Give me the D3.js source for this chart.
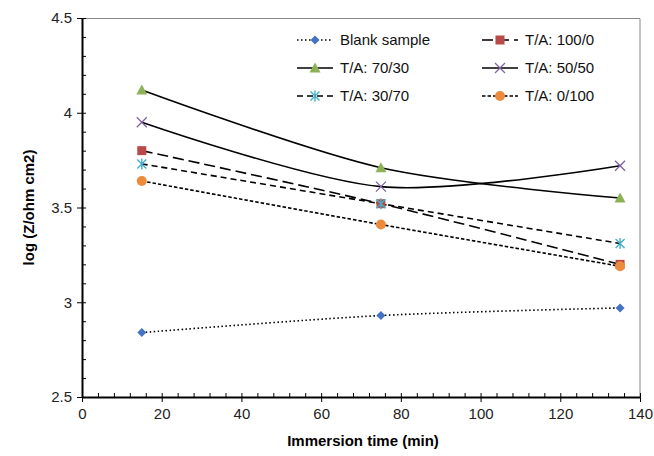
<!DOCTYPE html>
<html>
<head>
<meta charset="utf-8">
<script src="https://cdn.jsdelivr.net/npm/d3@7"></script>
<style>
  body { margin: 0; background: #fff; }
  text { font-family: "Liberation Sans", Arial, sans-serif; }
</style>
</head>
<body>
<svg id="chart"></svg>
<script>
// Immersion times (min)
const times = [15, 75, 135];

// log(Z) values per sample
const blank = [2.84, 2.93, 2.97];
const ta100_0 = [3.80, 3.52, 3.20];
const ta70_30 = [4.12, 3.71, 3.55];
const ta50_50 = [3.95, 3.61, 3.72];
const ta30_70 = [3.73, 3.52, 3.31];
const ta0_100 = [3.64, 3.41, 3.19];

const xTicks = [0, 20, 40, 60, 80, 100, 120, 140];
const yTicks = [2.5, 3, 3.5, 4, 4.5];

const series = [
    { name: 'Blank sample', values: blank, dash: '1.5,2.5', marker: 'diamond', color: '#4472C4' },
    { name: 'T/A: 100/0', values: ta100_0, dash: '11,5', marker: 'square', color: '#B94A48' },
    { name: 'T/A: 70/30', values: ta70_30, dash: null, marker: 'triangle', color: '#8DB255' },
    { name: 'T/A: 50/50', values: ta50_50, dash: null, marker: 'cross', color: '#7E62A1' },
    { name: 'T/A: 30/70', values: ta30_70, dash: '6,4', marker: 'star', color: '#45AFC8' },
    { name: 'T/A: 0/100', values: ta0_100, dash: '3.5,2', marker: 'circle', color: '#EE8A3C' }
];

const config = {
    width: 654,
    height: 456,
    margin: { top: 18, right: 14, bottom: 59, left: 82 }
};

let vis = {};
vis.width = config.width - config.margin.left - config.margin.right;
vis.height = config.height - config.margin.top - config.margin.bottom;

vis.svg = d3.select('#chart')
    .attr('width', config.width)
    .attr('height', config.height);

vis.chart = vis.svg.append('g')
    .attr('transform', `translate(${config.margin.left}, ${config.margin.top})`);

let x = d3.scaleLinear().domain([0, 140]).range([0, vis.width]);
let y = d3.scaleLinear().domain([2.5, 4.5]).range([vis.height, 0]);

// plot frame (top and right)
vis.chart.append('path')
    .attr('d', `M0,0.5H${vis.width}V${vis.height}`)
    .attr('fill', 'none')
    .attr('stroke', '#888')
    .attr('stroke-width', 1);

// minor ticks (inside)
vis.chart.append('g')
    .attr('transform', `translate(0, ${vis.height})`)
    .call(d3.axisBottom(x).tickValues(d3.range(0, 141, 4)).tickSize(-4).tickFormat(''))
    .call(g => g.select('.domain').remove());
vis.chart.append('g')
    .call(d3.axisLeft(y).tickValues(d3.range(25, 46, 1).map(d => d / 10)).tickSize(-4).tickFormat(''))
    .call(g => g.select('.domain').remove());

// major axes
let xAxis = vis.chart.append('g')
    .attr('transform', `translate(0, ${vis.height})`)
    .call(d3.axisBottom(x).tickValues(xTicks).tickSize(5).tickPadding(6).tickSizeOuter(0));
let yAxis = vis.chart.append('g')
    .call(d3.axisLeft(y).tickValues(yTicks).tickSize(5).tickPadding(5).tickSizeOuter(0)
        .tickFormat(d3.format('')));

[xAxis, yAxis].forEach(ax => {
    ax.select('.domain').attr('stroke-width', 2);
    ax.selectAll('text').style('font-size', '15px').attr('fill', '#222');
});

// axis titles
vis.svg.append('text')
    .attr('x', config.margin.left + vis.width / 2 + 2)
    .attr('y', 446)
    .attr('text-anchor', 'middle')
    .style('font-size', '15px')
    .style('font-weight', 'bold')
    .text('Immersion time (min)');

vis.svg.append('text')
    .attr('transform', `translate(34, ${config.margin.top + vis.height / 2}) rotate(-90)`)
    .attr('text-anchor', 'middle')
    .style('font-size', '15px')
    .style('font-weight', 'bold')
    .text('log (Z/ohm cm2)');

// marker drawing helper
function drawMarker(g, type, color) {
    if (type === 'diamond') {
        g.append('path').attr('d', 'M0,-4.5L4.5,0L0,4.5L-4.5,0Z').attr('fill', color);
    } else if (type === 'square') {
        g.append('rect').attr('x', -4.5).attr('y', -4.5).attr('width', 9).attr('height', 9).attr('fill', color);
    } else if (type === 'triangle') {
        g.append('path').attr('d', 'M0,-5.5L5.5,4.5L-5.5,4.5Z').attr('fill', color);
    } else if (type === 'cross') {
        g.append('path').attr('d', 'M-5,-5L5,5M-5,5L5,-5').attr('stroke', color).attr('stroke-width', 1.3);
    } else if (type === 'star') {
        g.append('path').attr('d', 'M-4.5,-4.5L4.5,4.5M-4.5,4.5L4.5,-4.5M0,-5.5V5.5')
            .attr('stroke', color).attr('stroke-width', 1.4);
    } else if (type === 'circle') {
        g.append('circle').attr('r', 5).attr('fill', color);
    }
}

let line = d3.line()
    .x(d => x(d.t))
    .y(d => y(d.v))
    .curve(d3.curveCardinal.tension(0.1));

// lines
series.forEach(s => {
    let pts = times.map((t, i) => ({ t: t, v: s.values[i] }));
    vis.chart.append('path')
        .datum(pts)
        .attr('d', line)
        .attr('fill', 'none')
        .attr('stroke', '#000')
        .attr('stroke-width', 1.6)
        .attr('stroke-dasharray', s.dash);
});

// markers
series.forEach(s => {
    times.forEach((t, i) => {
        let g = vis.chart.append('g')
            .attr('transform', `translate(${x(t)}, ${y(s.values[i])})`);
        drawMarker(g, s.marker, s.color);
    });
});

// legend
let legend = vis.svg.append('g');
series.forEach((s, i) => {
    let col = i % 2, row = Math.floor(i / 2);
    let lx = col === 0 ? 297 : 482;
    let ly = 40 + row * 28;
    let g = legend.append('g').attr('transform', `translate(${lx}, ${ly})`);
    g.append('line')
        .attr('x1', 0).attr('x2', 36)
        .attr('stroke', '#000').attr('stroke-width', 1.6)
        .attr('stroke-dasharray', s.dash);
    drawMarker(g.append('g').attr('transform', 'translate(18,0)'), s.marker, s.color);
    g.append('text')
        .attr('x', 43)
        .attr('y', 5)
        .style('font-size', '15px')
        .attr('fill', '#111')
        .text(s.name);
});
</script>
</body>
</html>
